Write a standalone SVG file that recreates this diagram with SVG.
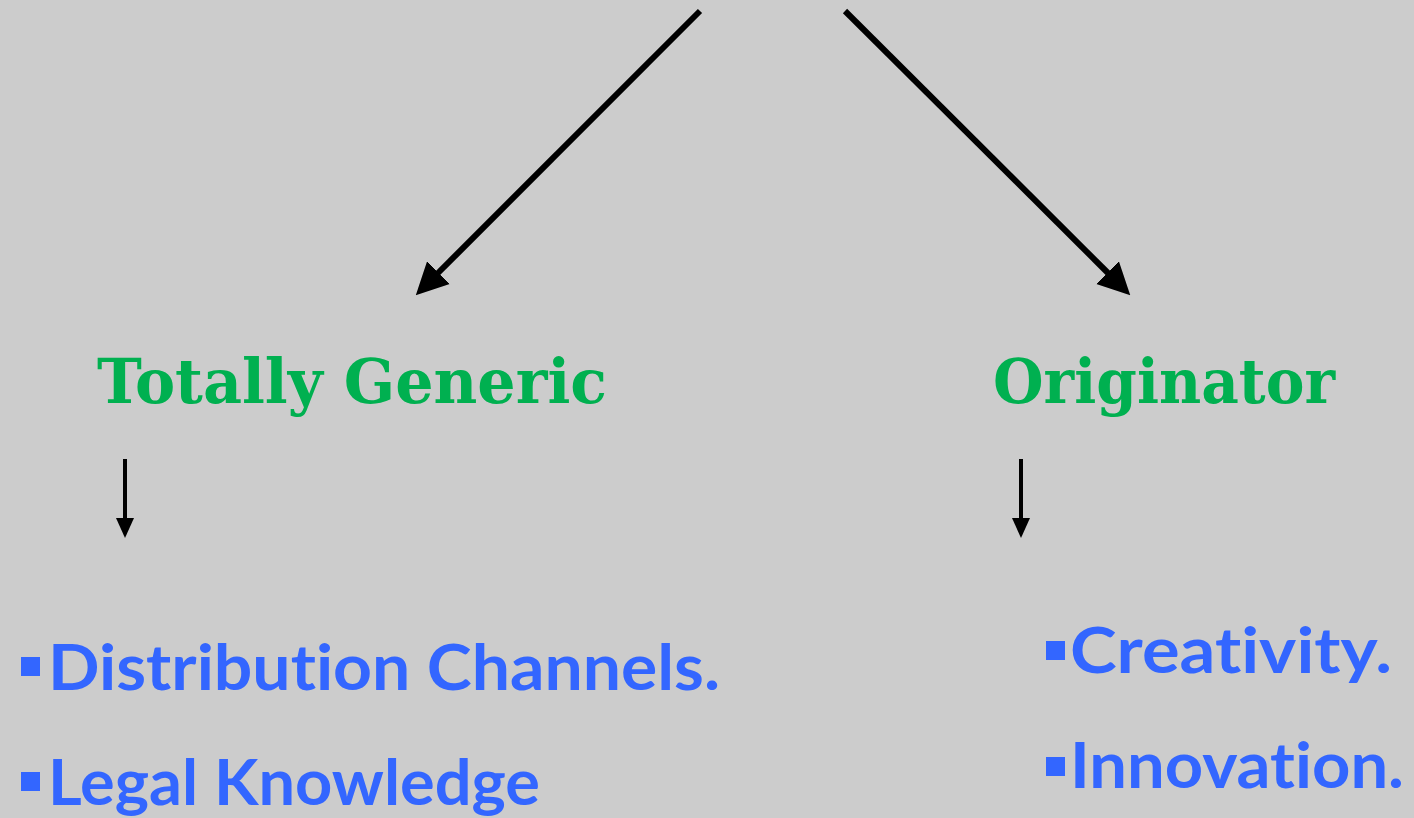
<svg xmlns="http://www.w3.org/2000/svg" width="1414" height="818" viewBox="0 0 1414 818">
<defs>
<style>
.h{font-family:"DejaVu Serif","Liberation Serif",serif;font-weight:bold;font-size:62px;fill:#00B050}
.b{font-family:"Comic Sans MS","Lato","DejaVu Sans",sans-serif;font-weight:bold;font-size:64px;fill:#3366FF;font-variant-ligatures:none;font-feature-settings:"liga" 0,"clig" 0,"dlig" 0}
.sq{fill:#3366FF}
.big{stroke:#000;stroke-width:6;fill:none}
.sm{stroke:#000;stroke-width:4;fill:none}
</style>
<marker id="ab" markerUnits="userSpaceOnUse" markerWidth="32" markerHeight="34" viewBox="0 0 32 34" refX="2" refY="17" orient="auto">
<path d="M0,1 L32,17 L0,33 Z" fill="#000"/>
</marker>
<marker id="as" markerUnits="userSpaceOnUse" markerWidth="20" markerHeight="20" viewBox="0 0 20 20" refX="2" refY="10" orient="auto">
<path d="M0,1 L20,10 L0,19 Z" fill="#000"/>
</marker>
</defs>
<rect width="1414" height="818" fill="#CCCCCC"/>
<g id="connectors">
<line class="big" x1="700" y1="11" x2="437" y2="274" marker-end="url(#ab)"/>
<line class="big" x1="845" y1="11" x2="1109" y2="274" marker-end="url(#ab)"/>
<line class="sm" x1="125" y1="459" x2="125" y2="520" marker-end="url(#as)"/>
<line class="sm" x1="1021" y1="459" x2="1021" y2="520" marker-end="url(#as)"/>
</g>
<g id="totally-generic"><text class="h" x="97" y="403" textLength="510" lengthAdjust="spacingAndGlyphs">Totally Generic</text></g>
<g id="originator"><text class="h" x="993" y="403" textLength="342" lengthAdjust="spacingAndGlyphs">Originator</text></g>
<g id="distribution">
<rect class="sq" x="21" y="657" width="19" height="19"/>
<text class="b" x="48" y="690" textLength="672" lengthAdjust="spacingAndGlyphs">Distribution Channels.</text>
</g>
<g id="legal">
<rect class="sq" x="21" y="772" width="19" height="19"/>
<text class="b" x="48" y="805" textLength="492" lengthAdjust="spacingAndGlyphs">Legal Knowledge</text>
</g>
<g id="creativity">
<rect class="sq" x="1046" y="641" width="19" height="19"/>
<text class="b" x="1070" y="673" textLength="322" lengthAdjust="spacingAndGlyphs">Creativity.</text>
</g>
<g id="innovation">
<rect class="sq" x="1046" y="757" width="19" height="19"/>
<text class="b" x="1070" y="788" textLength="334" lengthAdjust="spacingAndGlyphs">Innovation.</text>
</g>
</svg>
